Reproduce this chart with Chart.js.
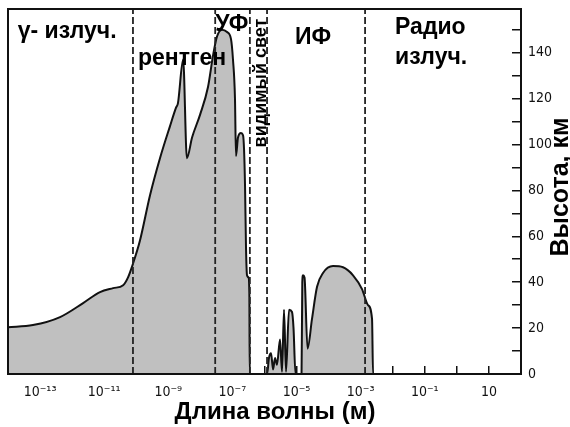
<!DOCTYPE html>
<html>
<head>
<meta charset="utf-8">
<script src="https://cdn.jsdelivr.net/npm/chart.js"></script>
<title>Высота поглощения</title>
<style>
  body { margin: 0; background: #fff; }
  #wrap { width: 570px; height: 427px; }
</style>
</head>
<body>
<div id="wrap">
  <canvas id="myChart"></canvas>
</div>

<script>
// wavelength (m) and absorption height (km)
const wavelength = [
  1.0e-14, 6.0e-14, 4.2e-13, 2.2e-12, 7.4e-12, 1.9e-11, 3.9e-11, 5.5e-11, 7.9e-11,
  1.3e-10, 2.7e-10, 5.5e-10, 1.13e-9, 1.74e-9, 2.0e-9, 2.9e-9, 3.8e-9, 5.5e-9, 9.8e-9,
  1.73e-8, 2.5e-8, 3.3e-8, 4.7e-8, 6.8e-8, 9.0e-8, 1.04e-7, 1.2e-7, 1.29e-7, 1.49e-7,
  1.85e-7, 2.14e-7, 2.3e-7, 2.47e-7, 2.65e-7, 2.85e-7, 3.18e-7, 3.37e-7, 3.46e-7,
  1.2e-6, 1.38e-6, 1.6e-6, 1.85e-6, 2.13e-6, 2.45e-6, 3.05e-6, 3.52e-6, 4.06e-6,
  4.69e-6, 5.82e-6, 7.21e-6, 8.04e-6, 9.27e-6, 1.43e-5, 1.51e-5, 1.59e-5, 1.77e-5,
  2.2e-5, 3.03e-5, 4.35e-5, 6.68e-5, 1.37e-4, 2.81e-4, 5.77e-4, 1.1e-3, 1.69e-3,
  2.26e-3, 2.43e-3, 1e2
];
const height = [
  20.4, 21.3, 24.8, 30.9, 35.7, 37.4, 38.7, 42, 48,
  58, 78, 94, 108, 116, 118, 137, 94, 103, 113,
  125, 139, 147, 150, 149, 146, 137, 120, 95, 103,
  105, 104, 98, 82, 55, 43, 42, 35, 0,
  0, 7, 9, 2, 7, 4, 15, 1, 28,
  1, 28, 27, 20, 0, 0, 40, 43, 42,
  11, 24, 38, 44, 47, 46.5, 43, 37, 30,
  24, 0, 0
];

// band borders (m)
const dividers = [7.9e-11, 2.9e-8, 3.5e-7, 1.2e-6, 1.37e-3];

// band names with anchor (wavelength, height)
const bandNames = ['γ- излуч.', 'рентген', 'УФ', 'ИФ', 'Радио', 'излуч.'];
const bandX = [2.0e-14, 1.13e-10, 2.9e-8, 8.95e-6, 1.18e-2, 1.18e-2];
const bandY = [146.5, 134.8, 149.6, 143.9, 148.3, 135.2];
const visibleName = 'видимый свет';
const visibleX = 1.11e-6;
const visibleY = 98.7;

// ticks
const xTickMarks = [1e-14, 1e-13, 1e-12, 1e-11, 1e-10, 1e-9, 1e-8, 1e-7, 1e-6, 1e-5,
  1e-4, 1e-3, 1e-2, 1e-1, 1, 10, 100];
const xTickValues = [1e-13, 1e-11, 1e-9, 1e-7, 1e-5, 1e-3, 1e-1, 10];
const xTickLabels = ['10⁻¹³', '10⁻¹¹', '10⁻⁹', '10⁻⁷', '10⁻⁵', '10⁻³', '10⁻¹', '10'];
const yTickMarks = [0, 10, 20, 30, 40, 50, 60, 70, 80, 90, 100, 110, 120, 130, 140, 150];
const yTickLabels = ['0', '', '20', '', '40', '', '60', '', '80', '', '100', '', '120', '', '140', ''];

const xTitle = 'Длина волны (м)';
const yTitle = 'Высота, км';

const ctx = document.getElementById('myChart');

const curve = wavelength.map((w, i) => ({x: w, y: height[i]}));
const datasets = dividers.map(d => ({
  data: [{x: d, y: 0}, {x: d, y: 159}],
  borderColor: '#222',
  borderWidth: 1.8,
  borderDash: [7, 3],
  pointRadius: 0,
  fill: false,
  order: 0
}));
datasets.push({
  data: curve,
  borderColor: '#111',
  borderWidth: 2,
  backgroundColor: '#c0c0c0',
  fill: 'origin',
  pointRadius: 0,
  cubicInterpolationMode: 'monotone',
  order: 1
});

const decor = {
  id: 'decor',
  afterDraw(chart) {
    const c = chart.ctx, a = chart.chartArea, x = chart.scales.x, y = chart.scales.y;
    c.save();
    c.strokeStyle = '#111';
    c.lineWidth = 2;
    c.strokeRect(a.left, a.top, a.right - a.left, a.bottom - a.top);

    c.fillStyle = '#000';
    c.textBaseline = 'alphabetic';
    c.textAlign = 'left';
    c.font = 'bold 23px "Liberation Sans", Arial, sans-serif';
    bandNames.forEach((t, i) => {
      c.fillText(t, x.getPixelForValue(bandX[i]), y.getPixelForValue(bandY[i]));
    });

    c.save();
    c.translate(x.getPixelForValue(visibleX), y.getPixelForValue(visibleY));
    c.rotate(-Math.PI / 2);
    c.font = 'bold 18px "Liberation Sans", Arial, sans-serif';
    c.fillText(visibleName, 0, 0);
    c.restore();

    c.textAlign = 'center';
    c.font = 'bold 24px "Liberation Sans", Arial, sans-serif';
    c.fillText(xTitle, 275, 419);

    c.save();
    c.translate(568, 187);
    c.rotate(-Math.PI / 2);
    c.font = 'bold 25px "Liberation Sans", Arial, sans-serif';
    c.fillText(yTitle, 0, 0);
    c.restore();
    c.restore();
  }
};

new Chart(ctx, {
  type: 'line',
  data: { datasets: datasets },
  options: {
    responsive: true,
    maintainAspectRatio: false,
    animation: false,
    devicePixelRatio: 1,
    layout: { padding: { left: 8, top: 9, right: 0, bottom: 0 } },
    plugins: { legend: { display: false }, tooltip: { enabled: false } },
    scales: {
      x: {
        type: 'logarithmic',
        min: 1e-14,
        max: 1e2,
        afterBuildTicks: s => { s.ticks = xTickMarks.map(v => ({value: v})); },
        afterFit: s => { s.height = 53; s.paddingLeft = 0; s.paddingRight = 0; },
        grid: { drawOnChartArea: false, tickLength: -8, color: '#111', lineWidth: 1.5 },
        border: { color: '#111', width: 2 },
        ticks: {
          autoSkip: false,
          maxRotation: 0,
          padding: 18,
          color: '#111',
          font: { family: '"DejaVu Sans Condensed", "DejaVu Sans", sans-serif', size: 14 },
          callback: v => {
            const i = xTickValues.findIndex(t => Math.abs(Math.log10(t) - Math.log10(v)) < 1e-6);
            return i < 0 ? '' : xTickLabels[i];
          }
        }
      },
      y: {
        position: 'right',
        min: 0,
        max: 159,
        afterBuildTicks: s => { s.ticks = yTickMarks.map(v => ({value: v})); },
        afterFit: s => { s.width = 49; s.paddingTop = 0; s.paddingBottom = 0; },
        grid: { drawOnChartArea: false, tickLength: -9, color: '#111', lineWidth: 1.5 },
        border: { color: '#111', width: 2 },
        ticks: {
          padding: 16,
          color: '#111',
          font: { family: '"DejaVu Sans Condensed", "DejaVu Sans", sans-serif', size: 14 },
          callback: (v, i) => yTickLabels[yTickMarks.indexOf(v)] || ''
        }
      }
    }
  },
  plugins: [decor]
});
</script>

</body>
</html>
